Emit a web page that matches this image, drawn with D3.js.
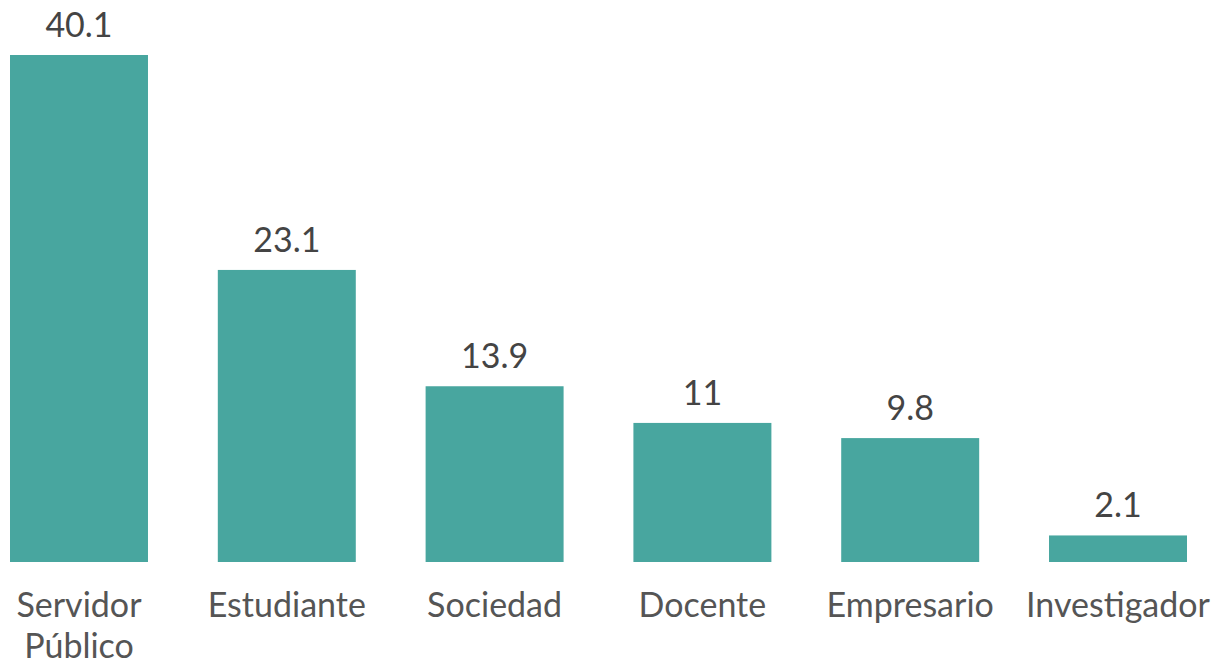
<!DOCTYPE html>
<html>
<head>
<meta charset="utf-8">
<script src="https://cdn.jsdelivr.net/npm/d3@7"></script>
<style>
  html, body { margin: 0; padding: 0; background: #fff; }
  svg { display: block; font-family: Lato, "Open Sans", sans-serif; }
</style>
</head>
<body>
<svg id="chart" width="1219" height="661"></svg>
<script>
// Share of respondents by profile (%)
const categories = ["Servidor Público", "Estudiante", "Sociedad", "Docente", "Empresario", "Investigador"];
const categoryLines = [["Servidor", "Público"], ["Estudiante"], ["Sociedad"], ["Docente"], ["Empresario"], ["Investigador"]];
const values = [40.1, 23.1, 13.9, 11, 9.8, 2.1];

const svg = d3.select("#chart");
const baseline = 562;
const topY = 55;

const x = d3.scaleBand()
  .domain(categories)
  .range([10, 1187])
  .paddingInner(0.336)
  .paddingOuter(0);

const y = d3.scaleLinear()
  .domain([0, 40.1])
  .range([baseline, topY]);

const data = categories.map((c, i) => ({ cat: c, lines: categoryLines[i], value: values[i] }));

svg.append("g")
  .selectAll("rect")
  .data(data)
  .join("rect")
  .attr("x", d => x(d.cat))
  .attr("y", d => y(d.value))
  .attr("width", x.bandwidth())
  .attr("height", d => y(0) - y(d.value))
  .attr("fill", "#48a69f");

svg.append("g")
  .selectAll("text")
  .data(data)
  .join("text")
  .attr("x", d => x(d.cat) + x.bandwidth() / 2)
  .attr("y", d => y(d.value) - 18)
  .attr("text-anchor", "middle")
  .attr("font-size", 34)
  .attr("fill", "#444")
  .text(d => d3.format("~")(d.value));

const labels = svg.append("g")
  .selectAll("text")
  .data(data)
  .join("text")
  .attr("x", d => x(d.cat) + x.bandwidth() / 2)
  .attr("y", 617)
  .attr("text-anchor", "middle")
  .attr("font-size", 34)
  .attr("fill", "#555");

labels.selectAll("tspan")
  .data(d => d.lines.map(l => ({ l, cx: x(d.cat) + x.bandwidth() / 2 })))
  .join("tspan")
  .attr("x", t => t.cx)
  .attr("dy", (t, i) => i === 0 ? 0 : 41)
  .text(t => t.l);
</script>
</body>
</html>
